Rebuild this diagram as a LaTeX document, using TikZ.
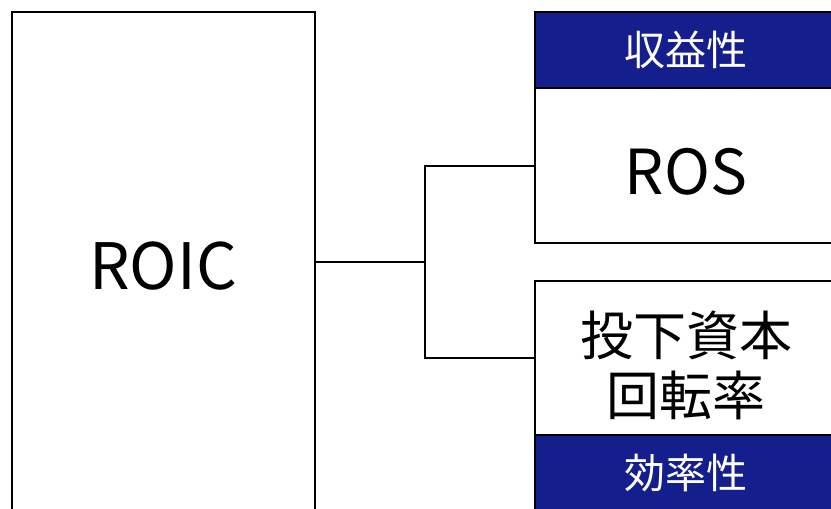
\documentclass[tikz,border=0pt]{standalone}
\usepackage{fontspec}
\setmainfont{Noto Sans CJK JP}
\definecolor{navy}{RGB}{20,30,140}
\begin{document}
\begin{tikzpicture}[x=1pt,y=-1pt,
  box/.style={draw=black,line width=1.5pt,fill=white},
  band/.style={draw=black,line width=1.5pt,fill=navy},
  conn/.style={draw=black,line width=1.5pt}]
\useasboundingbox (0,0) rectangle (831,509);
\begin{scope}
\clip (0,0) rectangle (831,509);
% left box
\draw[box] (12,12) rectangle (315,530);
\node[font=\fontsize{64}{70}\selectfont] (roic) at (163,266) {ROIC};
% top right box
\draw[box] (535,12) rectangle (850,243);
\draw[band] (535,12) rectangle (850,88);
\node[font=\fontsize{41}{46}\selectfont,text=white] (h1) at (686,50) {収益性};
\node[font=\fontsize{62}{68}\selectfont] (ros) at (686,172) {ROS};
% bottom right box
\draw[box] (535,281) rectangle (850,530);
\draw[band] (535,435) rectangle (850,530);
\node[font=\fontsize{53}{60}\selectfont,align=center] (ic) at (686,365) {投下資本\\回転率};
\node[font=\fontsize{41}{46}\selectfont,text=white] (h2) at (686,473) {効率性};
\end{scope}
\coordinate (a) at (315,262);
\coordinate (m) at (425,262);
\coordinate (t) at (535,166);
\coordinate (b) at (535,358);
\draw[conn] (a) -- (m);
\draw[conn] (t) -| (m) |- (b);
\end{tikzpicture}
\end{document}
